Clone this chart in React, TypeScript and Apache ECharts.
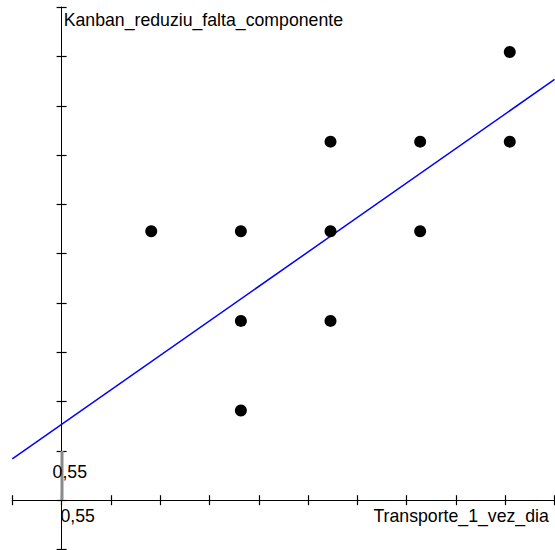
import React, { useEffect, useRef } from "react";
import * as echarts from "echarts";

// Data (x = Transporte_1_vez_dia, y = Kanban_reduziu_falta_componente)
const xValues = [1, 2, 2, 2, 3, 3, 3, 4, 4, 5, 5];
const yValues = [3, 3, 2, 1, 4, 3, 2, 4, 3, 5, 4];

// Fitted line as drawn in the reference
const REG_INTERCEPT = 0.845;
const REG_SLOPE = 0.7;

// Axis setup
const AXIS_MIN = -0.55;
const AXIS_MAX = 5.5;
const AXIS_STEP = 0.55;

const X_NAME = "Transporte_1_vez_dia";
const Y_NAME = "Kanban_reduziu_falta_componente";
const ORIGIN_LABEL = "0,55";

const FONT = "'Liberation Sans', Arial, Helvetica, sans-serif";
const FS = 17.7;

export default function App() {
  const ref = useRef<HTMLDivElement>(null);

  useEffect(() => {
    if (!ref.current) return;
    const chart = echarts.init(ref.current, null, { renderer: "svg" });

    const points = xValues.map((x, i) => [x, yValues[i]]);
    const linePts = [AXIS_MIN, AXIS_MAX].map((x) => [x, REG_INTERCEPT + REG_SLOPE * x]);

    const baseAxis = {
      type: "value" as const,
      min: AXIS_MIN,
      max: AXIS_MAX,
      interval: AXIS_STEP,
      splitLine: { show: false },
      axisLabel: { show: false },
    };

    const axisLine = (idx?: number) => ({
      show: true,
      onZero: true,
      ...(idx !== undefined ? { onZeroAxisIndex: idx } : {}),
      lineStyle: { color: "#000", width: 1 },
    });

    chart.setOption({
      animation: false,
      backgroundColor: "#fff",
      grid: { left: 12.3, top: 7.2, width: 542.3, height: 542.3, containLabel: false },
      xAxis: [
        {
          ...baseAxis,
          position: "bottom",
          axisLine: axisLine(),
          axisTick: { show: true, length: 5, inside: false, lineStyle: { color: "#000", width: 1.2 } },
        },
        {
          ...baseAxis,
          position: "bottom",
          axisLine: axisLine(0),
          axisTick: { show: true, length: 5, inside: true, lineStyle: { color: "#000", width: 1.2 } },
        },
      ],
      yAxis: [
        {
          ...baseAxis,
          position: "left",
          axisLine: axisLine(),
          axisTick: { show: true, length: 5, inside: false, lineStyle: { color: "#000", width: 1.2 } },
        },
        {
          ...baseAxis,
          position: "left",
          axisLine: axisLine(0),
          axisTick: { show: true, length: 5, inside: true, lineStyle: { color: "#000", width: 1.2 } },
        },
      ],
      series: [
        {
          type: "line",
          xAxisIndex: 0,
          yAxisIndex: 0,
          data: linePts,
          showSymbol: false,
          symbol: "none",
          lineStyle: { color: "#0000ff", width: 1.5 },
          z: 3,
        },
        {
          type: "scatter",
          xAxisIndex: 0,
          yAxisIndex: 0,
          data: points,
          symbol: "circle",
          symbolSize: 12,
          itemStyle: { color: "#000", opacity: 1 },
          z: 4,
        },
      ],
      graphic: [
        {
          type: "rect",
          shape: { x: 60.5, y: 451, width: 3, height: 49 },
          style: { fill: "#8a8a8a" },
          z: 100,
        },
        {
          type: "text",
          x: 63.7,
          y: 20,
          style: { text: Y_NAME, fill: "#000", font: `${FS}px ${FONT}`, align: "left", verticalAlign: "middle" },
        },
        {
          type: "text",
          x: 548.8,
          y: 515.6,
          style: { text: X_NAME, fill: "#000", font: `${FS}px ${FONT}`, align: "right", verticalAlign: "middle" },
        },
        {
          type: "text",
          x: 60.5,
          y: 515.6,
          style: { text: ORIGIN_LABEL, fill: "#000", font: `${FS}px ${FONT}`, align: "left", verticalAlign: "middle" },
        },
        {
          type: "text",
          x: 52.6,
          y: 472.3,
          style: { text: ORIGIN_LABEL, fill: "#000", font: `${FS}px ${FONT}`, align: "left", verticalAlign: "middle" },
          z: 101,
        },
      ],
    });

    return () => chart.dispose();
  }, []);

  return (
    <div
      ref={ref}
      style={{ position: "absolute", left: 0, top: 0, width: 555, height: 550 }}
    />
  );
}
